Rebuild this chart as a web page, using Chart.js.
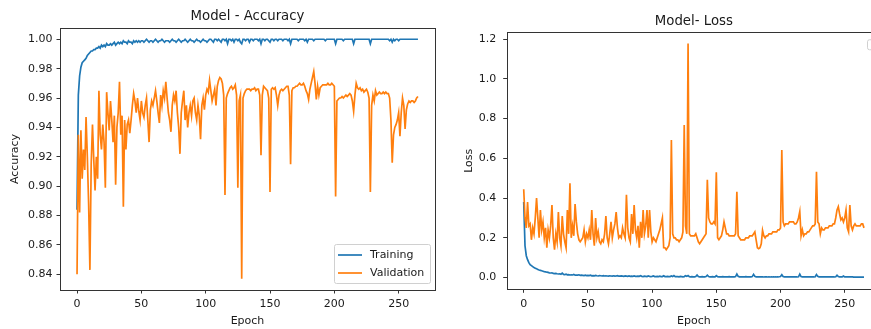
<!DOCTYPE html>
<html>
<head>
<meta charset="utf-8">
<script src="https://cdn.jsdelivr.net/npm/chart.js@4.4.1/dist/chart.umd.min.js"></script>
<style>
  html, body { margin: 0; padding: 0; background: #fff; overflow: hidden; width: 871px; height: 329px; }
  #accChart { position: absolute; left: 0; top: 0; }
  #lossChart { position: absolute; left: 440px; top: 0; }
</style>
</head>
<body>
<canvas id="accChart" width="440" height="329"></canvas>
<canvas id="lossChart" width="460" height="329"></canvas>
<script>
// values, one per epoch (0..265)
const trainAcc = [
  0.884, 0.962, 0.975, 0.981, 0.984, 0.985, 0.986, 0.987, 0.989, 0.990,
  0.991, 0.992, 0.992, 0.993, 0.993, 0.994, 0.994, 0.995, 0.994, 0.996,
  0.995, 0.996, 0.995, 0.997, 0.996, 0.996, 0.997, 0.996, 0.997, 0.998,
  0.996, 0.997, 0.998, 0.997, 0.998, 0.997, 0.999, 0.998, 0.998, 0.997,
  0.999, 0.998, 0.998, 0.997, 0.999, 0.998, 0.999, 0.998, 0.999, 0.998,
  0.999, 0.999, 0.998, 0.999, 1.000, 0.999, 0.998, 0.999, 0.999, 0.998,
  0.999, 1.000, 0.999, 0.998, 0.999, 0.999, 1.000, 0.999, 0.998, 0.999,
  0.999, 0.999, 0.998, 0.999, 1.000, 0.999, 0.999, 0.998, 0.999, 1.000,
  0.999, 0.998, 0.999, 0.999, 1.000, 0.999, 0.998, 0.999, 1.000, 0.999,
  0.999, 0.998, 0.999, 1.000, 0.999, 0.999, 0.998, 0.999, 1.000, 0.999,
  0.999, 0.998, 0.999, 1.000, 1.000, 0.999, 0.998, 1.000, 1.000, 0.999,
  1.000, 0.999, 0.998, 1.000, 1.000, 0.999, 1.000, 0.997, 1.000, 1.000,
  0.999, 1.000, 0.998, 1.000, 1.000, 0.999, 1.000, 0.998, 0.997, 1.000,
  1.000, 0.999, 1.000, 1.000, 0.998, 1.000, 1.000, 0.999, 1.000, 1.000,
  1.000, 0.999, 1.000, 0.997, 1.000, 1.000, 0.999, 1.000, 1.000, 0.999,
  0.998, 1.000, 1.000, 0.999, 1.000, 1.000, 0.999, 1.000, 1.000, 1.000,
  0.999, 1.000, 1.000, 1.000, 0.999, 1.000, 0.997, 1.000, 1.000, 1.000,
  1.000, 1.000, 0.999, 1.000, 1.000, 1.000, 1.000, 0.999, 1.000, 0.998,
  1.000, 1.000, 1.000, 1.000, 0.999, 1.000, 1.000, 1.000, 1.000, 1.000,
  1.000, 1.000, 1.000, 0.999, 1.000, 1.000, 1.000, 1.000, 1.000, 1.000,
  1.000, 0.997, 1.000, 1.000, 1.000, 1.000, 1.000, 0.999, 1.000, 1.000,
  1.000, 1.000, 1.000, 1.000, 1.000, 0.997, 1.000, 1.000, 1.000, 1.000,
  1.000, 1.000, 1.000, 1.000, 1.000, 1.000, 1.000, 1.000, 0.997, 1.000,
  1.000, 1.000, 1.000, 1.000, 1.000, 1.000, 1.000, 1.000, 1.000, 1.000,
  1.000, 1.000, 1.000, 0.999, 1.000, 0.998, 1.000, 0.999, 1.000, 1.000,
  0.999, 1.000, 1.000, 1.000, 1.000, 1.000, 1.000, 1.000, 1.000, 1.000,
  1.000, 1.000, 1.000, 1.000, 1.000, 1.000
];

const valAcc = [
  0.840, 0.935, 0.882, 0.938, 0.905, 0.925, 0.911, 0.947, 0.920, 0.888,
  0.843, 0.915, 0.942, 0.918, 0.897, 0.920, 0.905, 0.965, 0.935, 0.925,
  0.942, 0.930, 0.899, 0.964, 0.950, 0.938, 0.958, 0.945, 0.930, 0.948,
  0.901, 0.940, 0.950, 0.971, 0.935, 0.948, 0.886, 0.945, 0.925, 0.942,
  0.945, 0.936, 0.945, 0.955, 0.963, 0.958, 0.950, 0.960, 0.951, 0.945,
  0.958, 0.950, 0.947, 0.955, 0.960, 0.945, 0.930, 0.952, 0.958, 0.955,
  0.960, 0.965, 0.958, 0.950, 0.943, 0.962, 0.955, 0.965, 0.960, 0.971,
  0.960, 0.950, 0.945, 0.937, 0.955, 0.962, 0.958, 0.965, 0.950, 0.940,
  0.922, 0.950, 0.958, 0.965, 0.945, 0.955, 0.940, 0.950, 0.955, 0.948,
  0.958, 0.960, 0.950, 0.945, 0.955, 0.948, 0.932, 0.955, 0.960, 0.952,
  0.962, 0.966, 0.964, 0.972, 0.965, 0.958, 0.962, 0.966, 0.955, 0.968,
  0.972, 0.974, 0.973, 0.970, 0.962, 0.894, 0.960, 0.963, 0.965, 0.967,
  0.968, 0.966, 0.967, 0.969, 0.962, 0.899, 0.958, 0.962, 0.837, 0.960,
  0.963, 0.965, 0.966, 0.966, 0.966, 0.965, 0.966, 0.966, 0.967, 0.965,
  0.966, 0.966, 0.962, 0.921, 0.962, 0.968, 0.967, 0.966, 0.965, 0.960,
  0.896, 0.966, 0.967, 0.966, 0.967, 0.962, 0.955, 0.962, 0.965, 0.966,
  0.965, 0.966, 0.967, 0.968, 0.968, 0.962, 0.915, 0.965, 0.967, 0.967,
  0.968, 0.968, 0.969, 0.970, 0.969, 0.969, 0.970, 0.968, 0.965, 0.963,
  0.959, 0.966, 0.970, 0.974, 0.978, 0.970, 0.959, 0.968, 0.962, 0.967,
  0.968, 0.969, 0.969, 0.969, 0.969, 0.970, 0.969, 0.969, 0.970, 0.969,
  0.968, 0.893, 0.958, 0.959, 0.960, 0.960, 0.961, 0.960, 0.961, 0.962,
  0.961, 0.962, 0.963, 0.962, 0.958, 0.951, 0.962, 0.970, 0.967, 0.966,
  0.967, 0.965, 0.966, 0.964, 0.965, 0.966, 0.964, 0.960, 0.896, 0.955,
  0.962, 0.958, 0.965, 0.962, 0.963, 0.964, 0.963, 0.963, 0.964, 0.963,
  0.964, 0.963, 0.963, 0.960, 0.945, 0.916, 0.935, 0.940, 0.942, 0.945,
  0.950, 0.934, 0.950, 0.960, 0.955, 0.939, 0.952, 0.956, 0.958, 0.957,
  0.958, 0.958, 0.957, 0.958, 0.960, 0.961
];

const trainLoss = [
  0.380, 0.160, 0.110, 0.090, 0.075, 0.065, 0.060, 0.055, 0.050, 0.047,
  0.044, 0.041, 0.038, 0.036, 0.034, 0.032, 0.030, 0.029, 0.027, 0.026,
  0.024, 0.023, 0.024, 0.021, 0.020, 0.021, 0.019, 0.018, 0.019, 0.017,
  0.022, 0.016, 0.015, 0.017, 0.014, 0.015, 0.013, 0.014, 0.013, 0.016,
  0.012, 0.013, 0.012, 0.014, 0.011, 0.012, 0.011, 0.010, 0.012, 0.010,
  0.011, 0.010, 0.012, 0.009, 0.010, 0.009, 0.011, 0.009, 0.008, 0.010,
  0.009, 0.008, 0.010, 0.008, 0.009, 0.008, 0.007, 0.009, 0.008, 0.007,
  0.009, 0.007, 0.008, 0.010, 0.007, 0.007, 0.008, 0.007, 0.006, 0.008,
  0.007, 0.006, 0.008, 0.006, 0.007, 0.006, 0.008, 0.006, 0.006, 0.007,
  0.006, 0.009, 0.006, 0.005, 0.007, 0.006, 0.005, 0.008, 0.006, 0.005,
  0.006, 0.008, 0.005, 0.005, 0.006, 0.005, 0.007, 0.005, 0.005, 0.009,
  0.005, 0.005, 0.006, 0.005, 0.005, 0.008, 0.005, 0.010, 0.005, 0.005,
  0.005, 0.004, 0.006, 0.005, 0.004, 0.005, 0.009, 0.006, 0.010, 0.005,
  0.004, 0.005, 0.004, 0.004, 0.005, 0.013, 0.005, 0.004, 0.004, 0.005,
  0.004, 0.004, 0.005, 0.012, 0.005, 0.004, 0.004, 0.005, 0.004, 0.004,
  0.010, 0.005, 0.004, 0.004, 0.004, 0.005, 0.004, 0.004, 0.004, 0.004,
  0.005, 0.004, 0.004, 0.004, 0.004, 0.005, 0.018, 0.006, 0.004, 0.004,
  0.004, 0.004, 0.004, 0.005, 0.004, 0.004, 0.004, 0.004, 0.005, 0.016,
  0.006, 0.004, 0.004, 0.004, 0.004, 0.004, 0.004, 0.003, 0.004, 0.004,
  0.003, 0.004, 0.003, 0.004, 0.003, 0.003, 0.004, 0.003, 0.003, 0.004,
  0.005, 0.014, 0.005, 0.003, 0.003, 0.003, 0.003, 0.003, 0.003, 0.003,
  0.003, 0.003, 0.003, 0.003, 0.004, 0.017, 0.005, 0.003, 0.003, 0.003,
  0.003, 0.003, 0.003, 0.003, 0.003, 0.003, 0.003, 0.004, 0.015, 0.006,
  0.003, 0.003, 0.003, 0.003, 0.003, 0.003, 0.003, 0.003, 0.003, 0.003,
  0.003, 0.003, 0.003, 0.004, 0.012, 0.005, 0.003, 0.003, 0.003, 0.008,
  0.003, 0.003, 0.003, 0.003, 0.003, 0.003, 0.003, 0.002, 0.002, 0.002,
  0.002, 0.002, 0.002, 0.002, 0.002, 0.002
];

const valLoss = [
  0.444, 0.300, 0.250, 0.380, 0.260, 0.270, 0.190, 0.250, 0.220, 0.300,
  0.400, 0.300, 0.200, 0.340, 0.240, 0.280, 0.200, 0.250, 0.150, 0.240,
  0.200, 0.260, 0.365, 0.200, 0.140, 0.220, 0.180, 0.330, 0.200, 0.160,
  0.310, 0.220, 0.180, 0.150, 0.340, 0.220, 0.474, 0.200, 0.260, 0.210,
  0.370, 0.280, 0.220, 0.190, 0.180, 0.190, 0.200, 0.240, 0.180, 0.220,
  0.200, 0.240, 0.190, 0.340, 0.220, 0.160, 0.300, 0.200, 0.230, 0.180,
  0.170, 0.190, 0.180, 0.220, 0.310, 0.200, 0.170, 0.220, 0.280, 0.200,
  0.240, 0.270, 0.330, 0.250, 0.200, 0.210, 0.200, 0.250, 0.220, 0.200,
  0.416, 0.250, 0.200, 0.180, 0.320, 0.220, 0.365, 0.240, 0.200, 0.260,
  0.150, 0.280, 0.200, 0.340, 0.220, 0.260, 0.340, 0.200, 0.340, 0.230,
  0.180, 0.200, 0.190, 0.180, 0.200, 0.220, 0.240, 0.270, 0.300, 0.150,
  0.150, 0.140, 0.150, 0.160, 0.200, 0.692, 0.220, 0.200, 0.200, 0.190,
  0.190, 0.180, 0.190, 0.200, 0.230, 0.768, 0.260, 0.220, 1.178, 0.220,
  0.210, 0.210, 0.210, 0.210, 0.220, 0.200, 0.180, 0.170, 0.180, 0.190,
  0.200, 0.210, 0.220, 0.492, 0.300, 0.280, 0.270, 0.270, 0.280, 0.270,
  0.530, 0.200, 0.190, 0.200, 0.210, 0.240, 0.280, 0.250, 0.220, 0.220,
  0.210, 0.210, 0.210, 0.210, 0.210, 0.220, 0.432, 0.210, 0.200, 0.190,
  0.190, 0.190, 0.190, 0.200, 0.200, 0.200, 0.210, 0.210, 0.210, 0.220,
  0.230, 0.190, 0.150, 0.145, 0.150, 0.170, 0.238, 0.210, 0.200, 0.210,
  0.210, 0.220, 0.220, 0.220, 0.230, 0.230, 0.230, 0.230, 0.240, 0.240,
  0.250, 0.642, 0.280, 0.260, 0.270, 0.270, 0.270, 0.280, 0.280, 0.280,
  0.280, 0.270, 0.270, 0.280, 0.300, 0.332, 0.210, 0.240, 0.210, 0.220,
  0.220, 0.230, 0.230, 0.240, 0.250, 0.260, 0.260, 0.270, 0.532, 0.280,
  0.270, 0.220, 0.250, 0.240, 0.240, 0.250, 0.250, 0.250, 0.260, 0.260,
  0.260, 0.270, 0.270, 0.300, 0.340, 0.357, 0.320, 0.290, 0.300, 0.280,
  0.300, 0.340, 0.250, 0.230, 0.365, 0.260, 0.240, 0.260, 0.270, 0.260,
  0.260, 0.260, 0.260, 0.270, 0.270, 0.250
];

const epochs = valAcc.map((_, i) => i);
const xTicks = [0, 50, 100, 150, 200, 250];
const accTicks = [0.84, 0.86, 0.88, 0.90, 0.92, 0.94, 0.96, 0.98, 1.00];
const lossTicks = [0.0, 0.2, 0.4, 0.6, 0.8, 1.0, 1.2];
const seriesNames = ["Training", "Validation"];

const BLUE = "#1f77b4";
const ORANGE = "#ff7f0e";
const FONT = '"DejaVu Sans", sans-serif';
const INK = "#1a1a1a";

Chart.defaults.font.family = FONT;
Chart.defaults.color = INK;

function points(ys) {
  return ys.map((y, i) => ({x: epochs[i], y: y}));
}

// black box round the plot area, like the matplotlib spines
const frame = {
  id: "frame",
  afterDatasetsDraw(chart) {
    const {ctx, chartArea: a} = chart;
    ctx.save();
    ctx.strokeStyle = "#333";
    ctx.lineWidth = 1;
    ctx.strokeRect(Math.round(a.left) + 0.5, Math.round(a.top) + 0.5,
      Math.round(a.right - a.left), Math.round(a.bottom - a.top));
    ctx.restore();
  }
};

// legend drawn inside the plot area
const boxLegend = {
  id: "boxLegend",
  afterDraw(chart, args, o) {
    if (!o.show) return;
    const {ctx, chartArea: a} = chart;
    const x0 = a.right - o.right - o.width;
    const y0 = o.top != null ? a.top + o.top : a.bottom - o.bottom - o.height;
    ctx.save();
    ctx.beginPath();
    ctx.roundRect(x0 + 0.5, y0 + 0.5, o.width, o.height, 2);
    ctx.fillStyle = "rgba(255,255,255,0.8)";
    ctx.fill();
    ctx.strokeStyle = "#d0d0d0";
    ctx.lineWidth = 1;
    ctx.stroke();
    if (o.entries) {
      chart.data.datasets.forEach((ds, i) => {
        const y = y0 + 11 + i * 18;
        ctx.beginPath();
        ctx.moveTo(x0 + 4, y);
        ctx.lineTo(x0 + 28, y);
        ctx.strokeStyle = ds.borderColor;
        ctx.lineWidth = 1.7;
        ctx.stroke();
        ctx.fillStyle = INK;
        ctx.font = "11px " + FONT;
        ctx.textBaseline = "middle";
        ctx.fillText(ds.label, x0 + 36, y);
      });
    }
    ctx.restore();
  }
};

function makeChart(id, cfg) {
  const ctx = document.getElementById(id).getContext("2d");
  return new Chart(ctx, {
    type: "line",
    data: {
      datasets: [
        {label: seriesNames[0], data: points(cfg.train), borderColor: BLUE, borderWidth: 1.7, order: 1},
        {label: seriesNames[1], data: points(cfg.val), borderColor: ORANGE, borderWidth: 1.7, order: 0}
      ]
    },
    options: {
      responsive: false,
      animation: false,
      parsing: false,
      elements: {point: {radius: 0}, line: {tension: 0}},
      layout: {padding: {left: 0, right: cfg.padRight, top: 0, bottom: 0}},
      plugins: {
        legend: {display: false},
        tooltip: {enabled: false},
        title: {
          display: true,
          text: cfg.title,
          fullSize: false,
          color: INK,
          font: {size: 13.3, weight: "normal", family: FONT},
          padding: cfg.titlePad
        },
        boxLegend: cfg.legend
      },
      scales: {
        x: {
          type: "linear",
          min: -13.25,
          max: 278.25,
          afterBuildTicks: (s) => { s.ticks = xTicks.map(v => ({value: v})); },
          afterFit: (s) => { s.height = cfg.xAxisH; },
          ticks: {font: {size: 11}, color: INK, padding: 4.5, maxRotation: 0},
          grid: {drawOnChartArea: false, drawTicks: true, tickLength: 3.5, color: "#333"},
          border: {display: false},
          title: {display: true, text: "Epoch", font: {size: 11}, color: INK, padding: {top: 0, bottom: 0.8}}
        },
        y: {
          type: "linear",
          min: cfg.yMin,
          max: cfg.yMax,
          afterBuildTicks: (s) => { s.ticks = cfg.yTicks.map(v => ({value: v})); },
          afterFit: (s) => { s.width = cfg.yAxisW; },
          ticks: {font: {size: 11}, color: INK, padding: cfg.yTickPad, callback: (v) => v.toFixed(cfg.digits)},
          grid: {drawOnChartArea: false, drawTicks: true, tickLength: 3.5, color: "#333"},
          border: {display: false},
          title: {display: true, text: cfg.yLabel, font: {size: 11}, color: INK, padding: {top: cfg.yTitlePad, bottom: 0}}
        }
      }
    },
    plugins: [frame, boxLegend]
  });
}

makeChart("accChart", {
  title: "Model - Accuracy",
  train: trainAcc,
  val: valAcc,
  yMin: 0.8293,
  yMax: 1.0077,
  yTicks: accTicks,
  digits: 2,
  yLabel: "Accuracy",
  yAxisW: 60,
  yTickPad: 4,
  yTitlePad: 8.4,
  xAxisH: 39,
  padRight: 5,
  titlePad: {top: 9, bottom: 3},
  legend: {show: true, entries: true, width: 96, height: 39, right: 5, bottom: 7}
});

makeChart("lossChart", {
  title: "Model- Loss",
  train: trainLoss,
  val: valLoss,
  yMin: -0.059,
  yMax: 1.234,
  yTicks: lossTicks,
  digits: 1,
  yLabel: "Loss",
  yAxisW: 66.7,
  yTickPad: 7,
  yTitlePad: 22.7,
  xAxisH: 39.7,
  padRight: 19,
  titlePad: {top: 13.5, bottom: 2.8},
  legend: {show: true, entries: false, width: 10, height: 10, right: 4, top: 7}
});
</script>
</body>
</html>
